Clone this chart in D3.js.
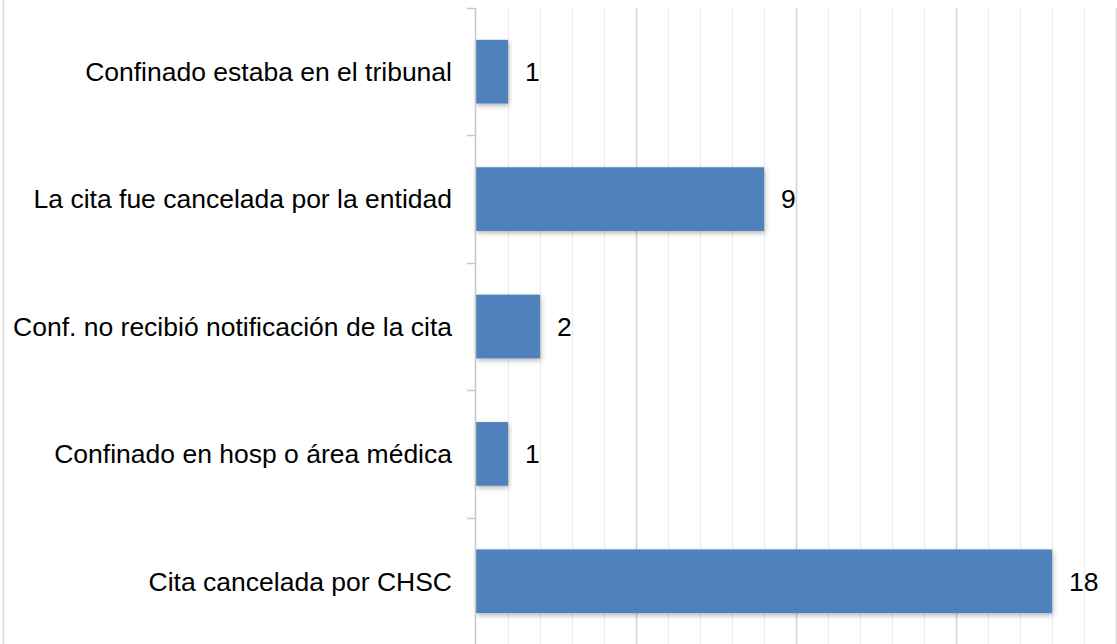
<!DOCTYPE html>
<html>
<head>
<meta charset="utf-8">
<script src="https://cdn.jsdelivr.net/npm/d3@7"></script>
<style>
  body { margin: 0; background: #fff; }
  svg { display: block; font-family: "Liberation Sans", Arial, sans-serif; }
</style>
</head>
<body>
<svg id="chart"></svg>
<script>
// Data (top to bottom as drawn)
const categories = [
    "Confinado estaba en el tribunal",
    "La cita fue cancelada por la entidad",
    "Conf. no recibió notificación de la cita",
    "Confinado en hosp o área médica",
    "Cita cancelada por CHSC"
];
const values = [1, 9, 2, 1, 18];

const width = 1117, height = 644;
const margin = {top: 8, bottom: -1, left: 476, right: 1};

const svg = d3.select("#chart")
    .attr("width", width)
    .attr("height", height);

// drop shadow for the bars
const defs = svg.append("defs");
defs.append("filter")
    .attr("id", "shadow")
    .attr("x", "-10%").attr("y", "-20%")
    .attr("width", "120%").attr("height", "150%")
    .append("feDropShadow")
    .attr("dx", 1).attr("dy", 2)
    .attr("stdDeviation", 2.5)
    .attr("flood-color", "#000")
    .attr("flood-opacity", 0.3);

// outer frame line on the left
svg.append("line")
    .attr("x1", 3.5).attr("x2", 3.5)
    .attr("y1", 0).attr("y2", height)
    .attr("stroke", "#d9d9d9")
    .attr("stroke-width", 1.5);

const xScale = d3.scaleLinear()
    .domain([0, 20])
    .range([margin.left, width - margin.right]);

const yScale = d3.scaleBand()
    .domain(categories)
    .range([margin.top, height - margin.bottom])
    .paddingInner(0.5)
    .paddingOuter(0.25);

// gridlines, every unit, darker every 5
const grid = d3.range(1, 21);
svg.append("g")
    .selectAll("line")
    .data(grid)
    .enter().append("line")
    .attr("x1", d => Math.round(xScale(d)) + 0.5)
    .attr("x2", d => Math.round(xScale(d)) + 0.5)
    .attr("y1", margin.top)
    .attr("y2", height)
    .attr("stroke", d => d % 5 === 0 ? "#d4d4d4" : "#ececec")
    .attr("stroke-width", d => d % 5 === 0 ? 1.5 : 1.2);

// bars
svg.append("g")
    .selectAll("rect")
    .data(values)
    .enter().append("rect")
    .attr("x", xScale(0))
    .attr("y", (d, i) => yScale(categories[i]))
    .attr("width", d => xScale(d) - xScale(0))
    .attr("height", yScale.bandwidth())
    .attr("fill", "#4f81bd")
    .attr("filter", "url(#shadow)");

// vertical axis line with ticks at category boundaries
const step = yScale.step();
const bounds = d3.range(categories.length + 1).map(i => margin.top + i * step);
const axis = svg.append("g");
axis.append("line")
    .attr("x1", xScale(0) - 0.5).attr("x2", xScale(0) - 0.5)
    .attr("y1", margin.top).attr("y2", height)
    .attr("stroke", "#c8c8c8")
    .attr("stroke-width", 1.5);
axis.selectAll(".tick")
    .data(bounds)
    .enter().append("line")
    .attr("x1", xScale(0) - 9).attr("x2", xScale(0))
    .attr("y1", d => Math.round(d) + 0.5)
    .attr("y2", d => Math.round(d) + 0.5)
    .attr("stroke", "#c8c8c8")
    .attr("stroke-width", 1.5);

// category labels
svg.append("g")
    .selectAll("text")
    .data(categories)
    .enter().append("text")
    .attr("x", xScale(0) - 24)
    .attr("y", d => yScale(d) + yScale.bandwidth() / 2)
    .attr("dy", "0.35em")
    .attr("text-anchor", "end")
    .attr("font-size", 26.5)
    .attr("fill", "#000")
    .text(d => d);

// value labels
svg.append("g")
    .selectAll("text")
    .data(values)
    .enter().append("text")
    .attr("x", d => xScale(d) + 17)
    .attr("y", (d, i) => yScale(categories[i]) + yScale.bandwidth() / 2)
    .attr("dy", "0.35em")
    .attr("font-size", 26.5)
    .attr("fill", "#000")
    .text(d => d);
</script>
</body>
</html>
